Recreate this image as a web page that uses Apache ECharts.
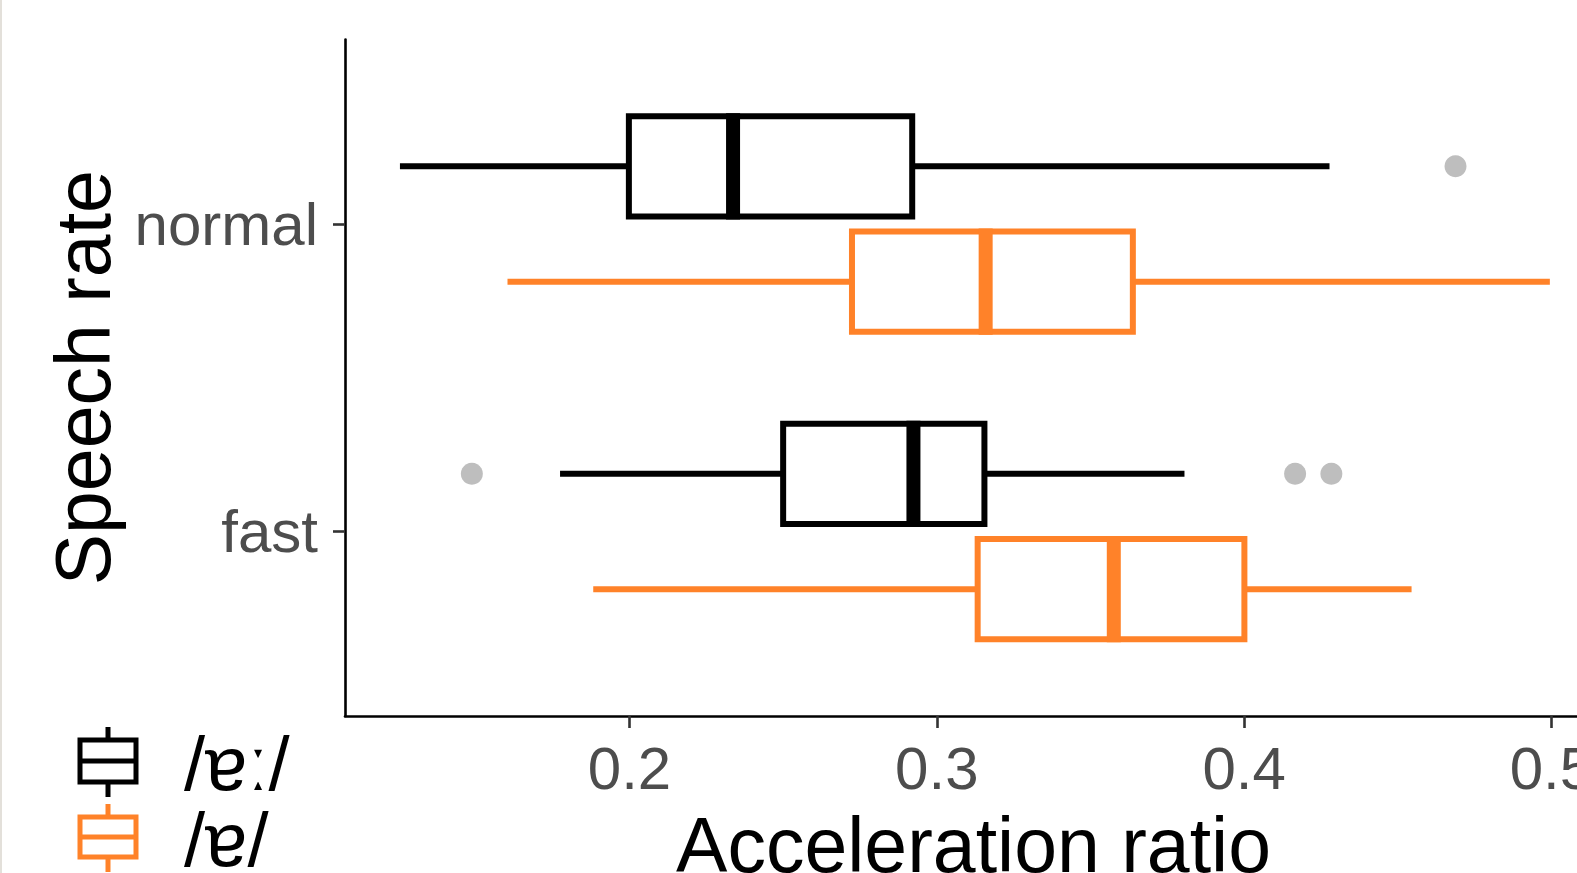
<!DOCTYPE html>
<html>
<head>
<meta charset="utf-8">
<script src="https://cdn.jsdelivr.net/npm/echarts@6/dist/echarts.min.js"></script>
<style>
html,body{margin:0;padding:0;background:#fff;}
#chart{width:1577px;height:873px;}
</style>
</head>
<body>
<div id="chart"></div>
<script>
// ---- data ----
const categories = ['fast', 'normal'];
const seriesNames = ['/ɐː/', '/ɐ/'];
const seriesColors = ['#000000', '#FF8229'];
// [lower whisker, Q1, median, Q3, upper whisker] for fast, normal
const longVowelStats = [
  [0.1774, 0.2500, 0.2924, 0.3155, 0.3806],
  [0.1253, 0.1998, 0.2337, 0.2920, 0.4278]
];
const shortVowelStats = [
  [0.1882, 0.3133, 0.3576, 0.4001, 0.4545],
  [0.1603, 0.2724, 0.3159, 0.3638, 0.4995]
];
const longVowelOutliers = [
  [0.1487, 0.4166, 0.4284],
  [0.4688]
];
const shortVowelOutliers = [[], []];
const xTickValues = [0.2, 0.3, 0.4, 0.5];
const xTickLabels = ['0.2', '0.3', '0.4', '0.5'];

// ---- layout constants ----
const DODGE = 0.1875;
const BOX_HALF = 0.163;
const FONT = '"Liberation Sans", Arial, "DejaVu Sans", sans-serif';

function boxData(stats) {
  return categories.map((c, i) => [i + 1].concat(stats[i]));
}
function outlierData(outs, offset) {
  const res = [];
  outs.forEach((arr, i) => arr.forEach(v => res.push([v, i + 1 + offset])));
  return res;
}

function makeRender(offset, color) {
  return function (params, api) {
    const cat = api.value(0);
    const low = api.value(1), q1 = api.value(2), med = api.value(3), q3 = api.value(4), high = api.value(5);
    const yc = api.coord([q1, cat + offset])[1];
    const yt = api.coord([q1, cat + offset + BOX_HALF])[1];
    const yb = api.coord([q1, cat + offset - BOX_HALF])[1];
    const xl = api.coord([low, cat])[0];
    const x1 = api.coord([q1, cat])[0];
    const xm = api.coord([med, cat])[0];
    const x3 = api.coord([q3, cat])[0];
    const xh = api.coord([high, cat])[0];
    const lw = 6;
    return {
      type: 'group',
      children: [
        { type: 'line', shape: { x1: xl, y1: yc, x2: x1, y2: yc }, style: { stroke: color, lineWidth: lw } },
        { type: 'line', shape: { x1: x3, y1: yc, x2: xh, y2: yc }, style: { stroke: color, lineWidth: lw } },
        { type: 'rect', shape: { x: x1, y: yt, width: x3 - x1, height: yb - yt }, style: { fill: '#fff', stroke: color, lineWidth: lw } },
        { type: 'line', shape: { x1: xm, y1: yt - lw / 2, x2: xm, y2: yb + lw / 2 }, style: { stroke: color, lineWidth: 14 } }
      ]
    };
  };
}

function legendGlyph(cx, cy, color, h) {
  return {
    type: 'group',
    children: [
      { type: 'line', shape: { x1: cx, y1: cy - h / 2 - 13, x2: cx, y2: cy + h / 2 + 15 }, style: { stroke: color, lineWidth: 5 } },
      { type: 'rect', shape: { x: cx - 28, y: cy - h / 2, width: 56, height: h }, style: { fill: '#fff', stroke: color, lineWidth: 5 } },
      { type: 'line', shape: { x1: cx - 28, y1: cy, x2: cx + 28, y2: cy }, style: { stroke: color, lineWidth: 5 } }
    ]
  };
}

const chart = echarts.init(document.getElementById('chart'), null, { renderer: 'svg' });
chart.setOption({
  animation: false,
  backgroundColor: '#ffffff',
  grid: { left: 345, top: 39.5, right: -25, bottom: 157, containLabel: false, outerBoundsMode: 'none' },
  xAxis: {
    type: 'value',
    min: 0.10742, max: 0.51647,
    name: 'Acceleration ratio',
    nameLocation: 'middle',
    nameGap: 90,
    nameTextStyle: { fontSize: 77, color: '#000', fontFamily: FONT },
    axisLine: { show: true, lineStyle: { color: '#000', width: 2.6 } },
    axisTick: { show: true, customValues: xTickValues, length: 12, lineStyle: { color: '#333', width: 2.6 } },
    axisLabel: { customValues: xTickValues, formatter: v => xTickLabels[xTickValues.indexOf(+v.toFixed(2))] || String(v), fontSize: 60, color: '#4D4D4D', margin: 22, fontFamily: FONT },
    splitLine: { show: false }
  },
  yAxis: {
    type: 'value',
    min: 0.4, max: 2.6,
    name: 'Speech rate',
    nameLocation: 'middle',
    nameGap: 224,
    nameTextStyle: { fontSize: 77, color: '#000', fontFamily: FONT },
    axisLine: { show: true, lineStyle: { color: '#000', width: 2.6 } },
    axisTick: { show: true, customValues: [1, 2], length: 12, lineStyle: { color: '#333', width: 2.6 } },
    axisLabel: { customValues: [1, 2], formatter: v => categories[Math.round(v) - 1], fontSize: 60, color: '#4D4D4D', margin: 27, fontFamily: FONT },
    splitLine: { show: false }
  },
  series: [
    {
      name: seriesNames[0], type: 'custom', renderItem: makeRender(DODGE, seriesColors[0]),
      encode: { x: [1, 2, 3, 4, 5], y: 0 }, data: boxData(longVowelStats), z: 3
    },
    {
      name: seriesNames[1], type: 'custom', renderItem: makeRender(-DODGE, seriesColors[1]),
      encode: { x: [1, 2, 3, 4, 5], y: 0 }, data: boxData(shortVowelStats), z: 3
    },
    {
      type: 'scatter', symbol: 'circle', symbolSize: 22, itemStyle: { color: '#BEBEBE', opacity: 1 },
      data: outlierData(longVowelOutliers, DODGE), z: 4
    },
    {
      type: 'scatter', symbol: 'circle', symbolSize: 22, itemStyle: { color: '#BEBEBE', opacity: 1 },
      data: outlierData(shortVowelOutliers, -DODGE), z: 4
    }
  ],
  graphic: [
    { type: 'rect', shape: { x: 0, y: 0, width: 2, height: 873 }, style: { fill: '#E3E0DA' } },
    legendGlyph(108, 761, seriesColors[0], 42),
    legendGlyph(108, 837, seriesColors[1], 40),
    { type: 'text', x: 184, y: 763, style: { text: seriesNames[0], fontSize: 76, lineHeight: 70, fontFamily: FONT, fill: '#000', verticalAlign: 'middle', align: 'left' } },
    { type: 'text', x: 184, y: 839, style: { text: seriesNames[1], fontSize: 76, lineHeight: 70, fontFamily: FONT, fill: '#000', verticalAlign: 'middle', align: 'left' } }
  ]
});
</script>
</body>
</html>
